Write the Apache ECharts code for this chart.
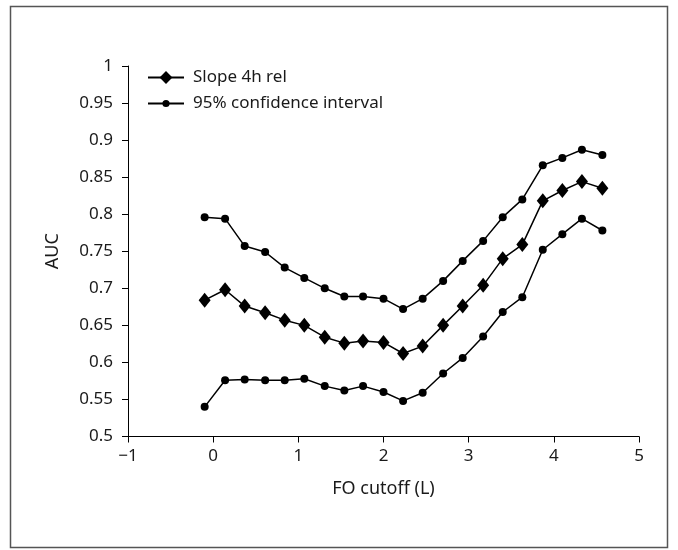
<!DOCTYPE html>
<html>
<head>
<meta charset="utf-8">
<script src="https://cdn.jsdelivr.net/npm/echarts@6/dist/echarts.min.js"></script>
<style>
  html, body { margin: 0; padding: 0; background: #fff; }
  #chart { width: 678px; height: 550px; }
</style>
</head>
<body>
<div id="chart"></div>
<script>
// FO cutoff values (L)
var cutoffs = [-0.1, 0.14, 0.37, 0.61, 0.84, 1.07, 1.31, 1.54, 1.76, 2.0, 2.23, 2.46, 2.7, 2.93, 3.17, 3.4, 3.63, 3.87, 4.1, 4.33, 4.57]
// AUC values
var slope = [0.684, 0.698, 0.676, 0.667, 0.657, 0.650, 0.634, 0.626, 0.629, 0.627, 0.612, 0.622, 0.650, 0.676, 0.704, 0.740, 0.759, 0.818, 0.832, 0.844, 0.835]
var ciUpper = [0.796, 0.794, 0.757, 0.749, 0.728, 0.714, 0.700, 0.689, 0.689, 0.686, 0.672, 0.686, 0.710, 0.737, 0.764, 0.796, 0.820, 0.866, 0.876, 0.887, 0.880]
var ciLower = [0.540, 0.576, 0.577, 0.576, 0.576, 0.578, 0.568, 0.562, 0.568, 0.560, 0.548, 0.559, 0.585, 0.606, 0.635, 0.668, 0.688, 0.752, 0.773, 0.794, 0.778]

var slopeName = 'Slope 4h rel'
var ciName = '95% confidence interval'

function pairs(xs, ys) {
  return xs.map(function (x, i) { return [x, ys[i]] })
}

var font = '"Noto Sans", "Open Sans", sans-serif'
var txt = '#1a1a1a'
var chart = echarts.init(document.getElementById('chart'))

// two legends so the diamond and the dot can have their own sizes
var legendBase = {
  left: 147,
  orient: 'vertical',
  padding: 0,
  itemWidth: 36,
  itemGap: 0,
  textStyle: { fontSize: 17, color: txt, fontFamily: font, padding: [0, 0, 0, 4] }
}

chart.setOption({
  animation: false,
  textStyle: { fontFamily: font },
  graphic: [{
    type: 'rect',
    shape: { x: 10.5, y: 6.5, width: 657, height: 541 },
    style: { fill: 'none', stroke: '#555', lineWidth: 1.5 },
    silent: true
  }],
  grid: { left: 128, right: 39, top: 66, bottom: 113.5 },
  legend: [
    Object.assign({}, legendBase, { top: 69, itemHeight: 16, data: [slopeName] }),
    Object.assign({}, legendBase, { top: 95, itemHeight: 9, data: [ciName] })
  ],
  xAxis: {
    type: 'value',
    min: -1, max: 5, interval: 1,
    name: 'FO cutoff (L)',
    nameLocation: 'middle',
    nameGap: 43,
    nameTextStyle: { fontSize: 18, color: txt },
    splitLine: { show: false },
    axisLine: { onZero: false, lineStyle: { color: '#000', width: 1 } },
    axisTick: { show: true, length: 6, lineStyle: { color: '#000' } },
    axisLabel: {
      fontSize: 17, color: txt, margin: 11,
      formatter: function (v) { return String(v).replace('-', '\u2212') }
    }
  },
  yAxis: {
    type: 'value',
    min: 0.5, max: 1, interval: 0.05,
    name: 'AUC',
    nameLocation: 'middle',
    nameGap: 66,
    nameTextStyle: { fontSize: 18, color: txt },
    splitLine: { show: false },
    axisLine: { show: true, onZero: false, lineStyle: { color: '#000', width: 1 } },
    axisTick: { show: true, length: 6, lineStyle: { color: '#000' } },
    axisLabel: {
      fontSize: 17, color: txt, margin: 15,
      formatter: function (v) { return String(Math.round(v * 100) / 100) }
    }
  },
  series: [{
    name: slopeName,
    type: 'line',
    data: pairs(cutoffs, slope),
    symbol: 'diamond',
    symbolSize: [12, 15],
    itemStyle: { color: '#000' },
    lineStyle: { color: '#000', width: 1.5 }
  }, {
    name: ciName,
    type: 'line',
    data: pairs(cutoffs, ciUpper),
    symbol: 'circle',
    symbolSize: 8,
    itemStyle: { color: '#000' },
    lineStyle: { color: '#000', width: 1.5 }
  }, {
    name: ciName,
    type: 'line',
    data: pairs(cutoffs, ciLower),
    symbol: 'circle',
    symbolSize: 8,
    itemStyle: { color: '#000' },
    lineStyle: { color: '#000', width: 1.5 }
  }]
})
</script>
</body>
</html>
